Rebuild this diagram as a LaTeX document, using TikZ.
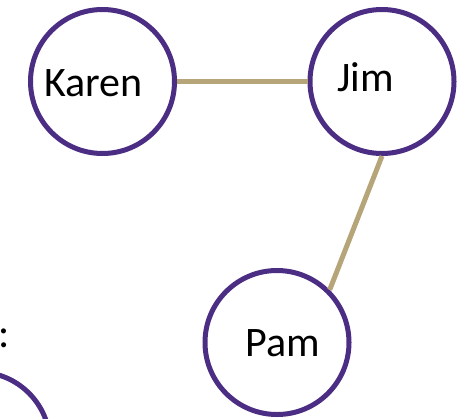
\documentclass[tikz,border=0pt]{standalone}
\usepackage{fontspec}
\setmainfont{Carlito}
\definecolor{uwpurple}{HTML}{4B2E83}
\definecolor{uwgold}{HTML}{B7A57A}
\begin{document}
\begin{tikzpicture}[x=1pt,y=-1pt,
    person/.style={circle,draw=uwpurple,line width=5pt,minimum size=144pt,inner sep=0pt},
    nametext/.style={anchor=base,font=\fontsize{42}{50}\selectfont},
    link/.style={uwgold,line width=5pt}]
    \useasboundingbox (0,0) rectangle (457,418);
    %% people
    \node[person] (karen) at (102.5,81.5) {};
    \node[person] (jim) at (382,81.5) {};
    \node[person] (pam) at (277,342.5) {};
    \node[person] (other) at (-22,444) {};
    %% names
    \node[nametext] (karenname) at (93.5,96.7) {Karen};
    \node[nametext] (jimname) at (365.5,91.7) {Jim};
    \node[nametext] (pamname) at (282.5,356.7) {Pam};
    \node[nametext] (colon) at (4,347) {:};
    %% friendships
    \draw[link] (karen.east) -- (jim.west);
    \draw[link] (jim.south) -- (pam.45);
\end{tikzpicture}
\end{document}
